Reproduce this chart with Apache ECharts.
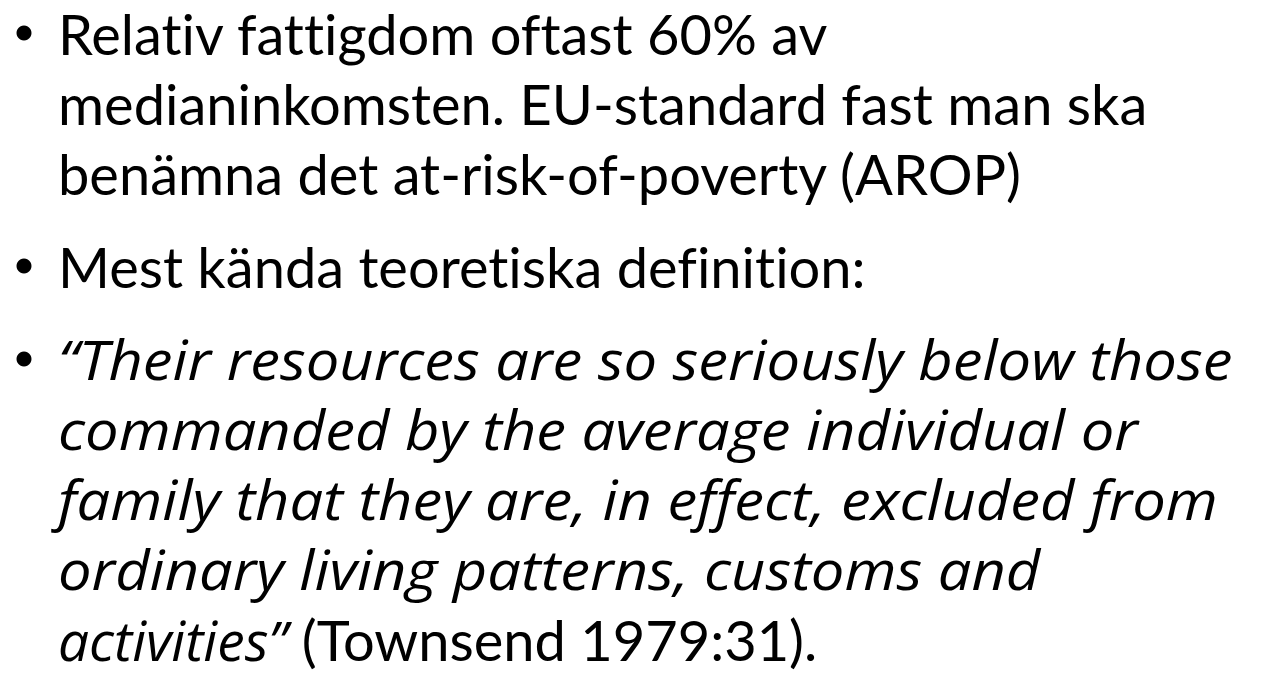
<!DOCTYPE html>
<html>
<head>
<meta charset="utf-8">
<script src="https://cdn.jsdelivr.net/npm/echarts@6/dist/echarts.min.js"></script>
<style>
  html, body { margin: 0; padding: 0; background: #fff; }
  #slide { width: 1265px; height: 675px; }
  /* inga ligaturer (Lato slår annars ihop "ti", "tt", "fi") */
  #slide text, #slide tspan { font-variant-ligatures: none !important; }
</style>
</head>
<body>
<div id="slide"></div>
<script>
// textrader för bilden, en lista per punkt
var punkt1 = [
    'Relativ fattigdom oftast 60% av',
    'medianinkomsten. EU-standard fast man ska',
    'benämna det at-risk-of-poverty (AROP)'
];
var punkt2 = [
    'Mest kända teoretiska definition:'
];
var citat = [
    '“Their resources are so seriously below those',
    'commanded by the average individual or',
    'family that they are, in effect, excluded from',
    'ordinary living patterns, customs and',
    'activities”'
];
var kalla = ' (Townsend 1979:31).';

var FONT = 'Lato';
var FONT_KURSIV = '"Open Sans"';
var SIZE = 56;
var SIZE_KURSIV = 55;
var bredKursiv = 1.085;  // Open Sans kursiv är smalare än originalet
var textX = 58;
var rad = 70;          // radavstånd
var styckeGap = 23;    // extra luft mellan punkterna
var mitt = 19;         // baslinje -> textens mitt

var chart = echarts.init(document.getElementById('slide'), null, { renderer: 'svg' });
var elements = [];
var baseline = 52;

function addBullet(y) {
    elements.push({
        type: 'circle',
        shape: { cx: 24, cy: y - 19, r: 7.5 },
        style: { fill: '#000' }
    });
}

function addLine(txt, y, italic) {
    elements.push({
        type: 'text',
        x: textX,
        y: y - mitt,
        scaleX: italic ? bredKursiv : 1,
        style: {
            text: txt,
            font: italic ? ('italic ' + SIZE_KURSIV + 'px ' + FONT_KURSIV) : (SIZE + 'px ' + FONT),
            fill: '#000',
            verticalAlign: 'middle'
        }
    });
}

// punkt 1
addBullet(baseline);
punkt1.forEach(function (t, i) {
    addLine(t, baseline + i * rad, false);
});
baseline += punkt1.length * rad + styckeGap;

// punkt 2
addBullet(baseline);
punkt2.forEach(function (t, i) {
    addLine(t, baseline + i * rad, false);
});
baseline += punkt2.length * rad + styckeGap;

// citatet, sista raden blandar kursiv och rak stil
addBullet(baseline);
citat.forEach(function (t, i) {
    var y = baseline + i * rad;
    if (i === citat.length - 1) {
        elements.push({
            type: 'text',
            x: textX,
            y: y - mitt,
            style: {
                text: '{i|' + t + '}{n|' + kalla + '}',
                verticalAlign: 'middle',
                fill: '#000',
                rich: {
                    i: { fontFamily: FONT_KURSIV, fontSize: SIZE_KURSIV, fontStyle: 'italic', fill: '#000', lineHeight: 50 },
                    n: { fontFamily: FONT, fontSize: SIZE, fill: '#000', lineHeight: 50 }
                }
            }
        });
    } else {
        addLine(t, y, true);
    }
});

chart.setOption({
    backgroundColor: '#fff',
    graphic: elements
});
</script>
</body>
</html>
